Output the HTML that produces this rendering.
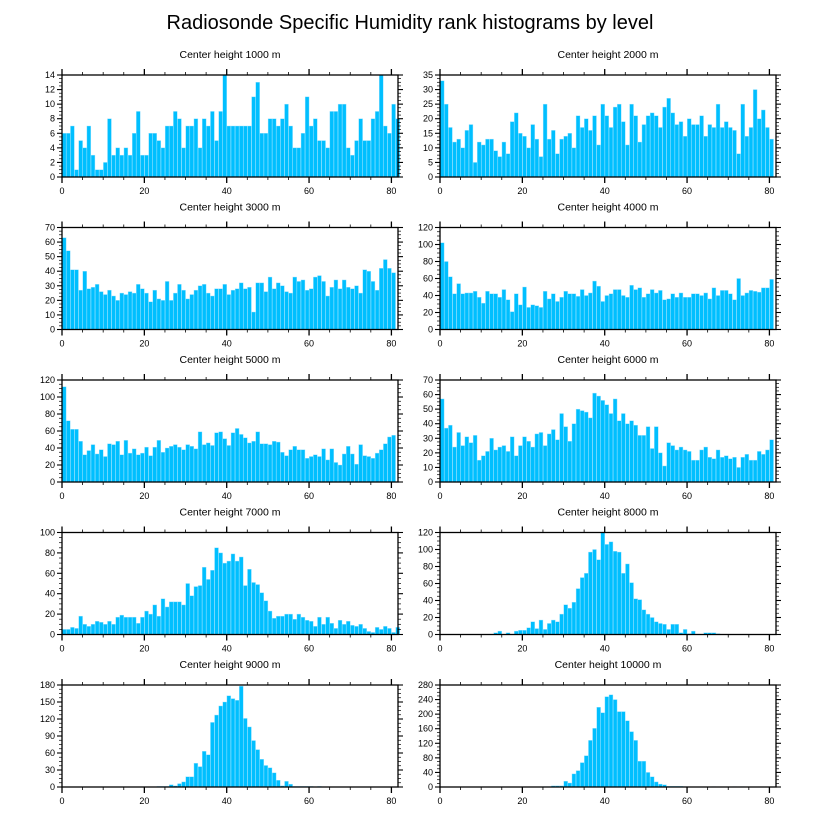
<!DOCTYPE html>
<html><head><meta charset="utf-8"><style>
body{margin:0;background:#fff}
svg{display:block;font-family:"Liberation Sans",sans-serif}
</style></head><body>
<svg id="chart" width="816" height="824" viewBox="0 0 816 824">
<text x="410" y="29" text-anchor="middle" font-size="20">Radiosonde Specific Humidity rank histograms by level</text>
</svg>
<script>
const heights = [1000,2000,3000,4000,5000,6000,7000,8000,9000,10000];
const yMaxes = [14,35,70,120,120,70,100,120,180,280];
const ySteps = [2,5,10,20,20,10,20,20,30,40];
const xTicks = [0,20,40,60,80];
const v1000 = [6,6,7,1,5,4,7,3,1,1,2,8,3,4,3,4,3,6,9,3,3,6,6,5,4,7,7,9,8,4,7,7,8,4,8,7,9,5,9,14,7,7,7,7,7,7,11,13,6,6,8,8,7,8,10,7,4,4,6,11,7,8,5,5,4,9,9,10,10,4,3,5,8,5,5,8,9,14,7,6,10,8];
const v2000 = [33,25,17,12,13,10,16,18,5,12,11,13,13,9,7,12,8,19,22,15,14,10,18,13,7,25,13,16,8,13,14,15,10,21,17,20,16,21,11,25,21,17,24,25,19,11,25,21,12,18,21,22,21,17,24,27,22,18,19,14,20,18,18,21,14,18,17,25,17,19,17,16,8,25,14,17,30,20,23,17,13];
const v3000 = [63,54,41,41,27,40,28,29,31,26,24,27,23,20,25,24,26,25,31,28,25,19,27,21,20,33,20,25,31,27,21,24,27,30,31,25,23,28,28,31,24,27,28,32,28,29,12,32,32,26,36,28,32,30,26,25,36,33,34,27,28,36,37,33,23,29,34,28,34,29,28,30,25,41,40,33,27,42,48,42,39];
const v4000 = [102,80,62,42,54,42,43,43,45,38,31,45,42,42,38,47,35,21,42,29,50,26,29,28,26,45,36,42,33,38,45,42,42,39,47,40,43,57,51,33,40,42,47,47,40,38,52,47,49,38,42,47,43,46,35,36,42,38,43,38,38,42,42,40,43,36,49,40,46,46,42,35,60,40,43,46,45,44,49,49,59];
const v5000 = [112,72,62,62,48,32,37,44,33,38,30,45,44,48,32,49,34,39,32,34,41,31,41,49,35,40,42,44,41,38,44,42,39,59,44,46,43,58,59,51,43,58,63,56,52,46,48,59,45,45,44,48,47,35,31,38,42,38,38,28,30,32,30,39,26,39,23,20,33,42,33,21,44,31,30,28,34,38,45,53,55];
const v6000 = [57,37,39,24,34,25,31,27,32,15,18,21,30,22,24,25,21,31,18,25,31,28,24,33,34,25,33,36,29,47,38,28,40,50,49,48,44,61,59,56,53,47,57,42,47,40,42,39,32,32,38,23,38,20,11,27,25,22,24,22,21,15,15,22,24,17,16,22,17,18,16,17,10,17,19,15,15,21,19,22,29];
const v7000 = [5,5,7,6,18,10,8,10,13,12,10,13,10,17,19,17,17,17,11,17,23,20,29,18,35,27,32,32,32,29,50,38,47,48,66,54,63,85,80,70,72,79,72,76,48,64,51,49,41,33,23,16,18,18,20,20,15,20,17,14,13,8,17,10,17,11,6,14,10,13,9,8,10,6,3,2,7,5,8,6,2,7];
const v8000 = [0,0,0,0,0,0,0,0,0,0,0,0,0,2,4,0,2,0,4,5,5,8,15,7,17,6,13,17,15,24,35,31,38,54,67,72,97,100,88,120,106,109,98,97,72,83,61,42,41,29,24,20,15,13,12,6,12,12,2,6,1,4,0,0,2,2,2,1,0,0,0,0,0,0,0,0,0,0,0,0,0,0];
const v9000 = [0,0,0,0,0,0,0,0,0,0,0,0,0,0,0,0,0,0,0,0,0,0,0,1,1,1,4,2,6,9,18,18,42,36,63,57,114,127,143,150,161,156,153,178,121,106,82,66,49,38,34,25,12,2,10,5,1,1,1,1,1,0,1,0,0,0,0,0,0,0,0,0,0,0,0,0,0,0,0,0,0,0];
const v10000 = [0,0,0,0,0,0,0,0,0,0,0,0,0,0,0,0,0,0,0,0,0,0,0,0,0,1,1,3,3,3,16,11,36,45,67,86,128,161,219,204,248,253,240,207,207,182,152,128,71,71,40,28,14,8,6,2,2,2,2,1,0,0,0,0,0,0,1,0,0,0,0,1,0,1,0,0,0,0,0,0,0,0];
const series = [v1000,v2000,v3000,v4000,v5000,v6000,v7000,v8000,v9000,v10000];

const NS='http://www.w3.org/2000/svg';
const svg=document.getElementById('chart');
const X_MAX=81.6;
function mk(tag,attrs,parent){const e=document.createElementNS(NS,tag);for(const k in attrs)e.setAttribute(k,attrs[k]);(parent||svg).appendChild(e);return e;}

series.forEach((vals,p)=>{
  const col=p%2,row=Math.floor(p/2);
  const L=col?440:62, R=col?776:398, T=75+row*152.5, B=T+102;
  const xs=v=>L+(v/X_MAX)*(R-L);
  const ys=v=>B-(v/yMaxes[p])*(B-T);
  const g=mk('g',{});
  
  
  const t=mk('text',{x:(L+R)/2,y:T-17,'text-anchor':'middle','font-size':'10.5'},g);
  t.textContent='Center height '+heights[p]+' m';
  
  
  vals.forEach((v,i)=>{
    if(v<=0)return;
    const r=mk('rect',{x:xs(i+0.05),y:ys(v),width:xs(0.95)-xs(0),height:B-ys(v),fill:'#00bfff',stroke:'#9fe3ff','stroke-width':'0.4'},g);
    
    
  });
  const f=mk('rect',{x:L,y:T,width:R-L,height:B-T,fill:'none',stroke:'#000','stroke-width':'1.3'},g);
  
  
  // x ticks
  for(let m=0;m<=80;m+=5){
    const major=m%20===0, len=major?6:3, x=xs(m);
    mk('line',{x1:x,x2:x,y1:B,y2:B+len,stroke:'#000','stroke-width':major?1.3:0.8},g);
    mk('line',{x1:x,x2:x,y1:T,y2:T-len,stroke:'#000','stroke-width':major?1.3:0.8},g);
  }
  xTicks.forEach(m=>{
    const tl=mk('text',{x:xs(m),y:B+17,'text-anchor':'middle','font-size':'9'},g);
    tl.textContent=m;
    
    
  });
  // y ticks
  const st=ySteps[p], minor=st/4;
  for(let k=0;k<=yMaxes[p]/minor+1e-6;k++){
    const v=k*minor, y=ys(v), major=k%4===0, len=major?5:3;
    mk('line',{x1:L,x2:L-len,y1:y,y2:y,stroke:'#000','stroke-width':major?1.1:0.7},g);
    mk('line',{x1:R,x2:R+len,y1:y,y2:y,stroke:'#000','stroke-width':major?1.1:0.7},g);
    if(major){
      const yl=mk('text',{x:L-7,y:y+3,'text-anchor':'end','font-size':'9'},g);
      yl.textContent=Math.round(v);
      
      
    }
  }
});
</script>
</body></html>
